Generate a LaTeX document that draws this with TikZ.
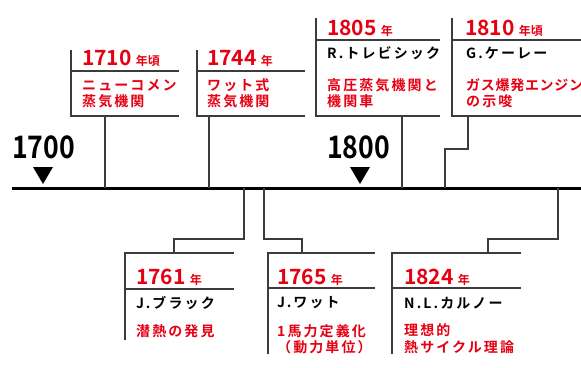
\documentclass[tikz,border=0pt]{standalone}
\usepackage{fontspec}
\newfontfamily\jp{Noto Sans CJK JP}[BoldFont={Noto Sans CJK JP Bold}]
\newfontfamily\jpnum{Noto Sans CJK JP}[BoldFont={Noto Sans CJK JP Bold},FakeStretch=0.86]
\newfontfamily\jpls{Noto Sans CJK JP}[BoldFont={Noto Sans CJK JP Bold},LetterSpace=15]
\definecolor{jred}{RGB}{230,0,18}
\definecolor{lgray}{RGB}{60,60,60}
\begin{document}
\begin{tikzpicture}[x=1pt,y=-1pt,
  boxline/.style={draw=lgray, line width=1.1pt},
  conn/.style={draw=lgray, line width=1.3pt},
  yr/.style={anchor=base west, inner sep=0, text=jred, font=\jp\bfseries\fontsize{21}{21}\selectfont},
  who/.style={anchor=west, inner sep=0, text=black, font=\jpls\bfseries\fontsize{14}{14}\selectfont},
  what/.style={anchor=west, inner sep=0, text=jred, font=\jpls\bfseries\fontsize{14}{14}\selectfont},
  century/.style={anchor=base west, inner sep=0, text=black, font=\jpnum\bfseries\fontsize{31}{31}\selectfont}]
\clip (0,0) rectangle (581,367);
\newcommand{\sm}[1]{\hspace{4pt}{\fontsize{12}{12}\selectfont #1}}
% timeline
\coordinate (tls) at (12,188);
\coordinate (tle) at (581,188);
\draw[black, line width=3pt] (tls) -- (tle);
% century labels
\node[century] (c1700) at (12,158) {1700};
\node[century] (c1800) at (327,158) {1800};
\fill ([shift={(21,9)}]c1700.base west) -- ++(20,0) -- ++(-10,17) -- cycle;
\fill ([shift={(23,9)}]c1800.base west) -- ++(20,0) -- ++(-10,17) -- cycle;
% ---------- Box A 1710
\coordinate (Atl) at (71,50); \coordinate (Adl) at (71,71); \coordinate (Adr) at (179,71);
\coordinate (Abl) at (71,116); \coordinate (Abr) at (179,116);
\coordinate (Ac) at (105,116); \coordinate (At) at (105,188);
\draw[boxline] (Atl) -- (Abl) -- (Abr); \draw[boxline] (Adl) -- (Adr);
\draw[conn] (Ac) -- (At);
\node[yr] (Ay) at (82,65) {1710\sm{年頃}};
\node[what] (Aw1) at (82,85) {ニューコメン};
\node[what] (Aw2) at (82,101) {蒸気機関};
% ---------- Box B 1744
\coordinate (Btl) at (197,50); \coordinate (Bdl) at (197,71); \coordinate (Bdr) at (305,71);
\coordinate (Bbl) at (197,116); \coordinate (Bbr) at (305,116);
\coordinate (Bc) at (209,116); \coordinate (Bt) at (209,188);
\draw[boxline] (Btl) -- (Bbl) -- (Bbr); \draw[boxline] (Bdl) -- (Bdr);
\draw[conn] (Bc) -- (Bt);
\node[yr] (By) at (207,65) {1744\sm{年}};
\node[what] (Bw1) at (207,85) {ワット式};
\node[what] (Bw2) at (207,101) {蒸気機関};
% ---------- Box C 1805
\coordinate (Ctl) at (316,18); \coordinate (Cdl) at (316,40); \coordinate (Cdr) at (440,40);
\coordinate (Cbl) at (316,116); \coordinate (Cbr) at (440,116);
\coordinate (Cc) at (402,116); \coordinate (Ct) at (402,188);
\draw[boxline] (Ctl) -- (Cbl) -- (Cbr); \draw[boxline] (Cdl) -- (Cdr);
\draw[conn] (Cc) -- (Ct);
\node[yr] (Cy) at (327,35) {1805\sm{年}};
\node[who] (Cn) at (327,53) {R.トレビシック};
\node[what] (Cw1) at (327,85) {高圧蒸気機関と};
\node[what] (Cw2) at (327,101) {機関車};
% ---------- Box D 1810
\coordinate (Dtl) at (452,18); \coordinate (Ddl) at (452,40); \coordinate (Ddr) at (581,40);
\coordinate (Dbl) at (452,116); \coordinate (Dbr) at (581,116);
\coordinate (Dc) at (468,116); \coordinate (Dk1) at (468,149); \coordinate (Dk2) at (445,149); \coordinate (Dt) at (445,188);
\draw[boxline] (Dtl) -- (Dbl) -- (Dbr); \draw[boxline] (Ddl) -- (Ddr);
\draw[conn] (Dc) -- (Dk1) -- (Dk2) -- (Dt);
\node[yr] (Dy) at (465,35) {1810\sm{年頃}};
\node[who] (Dn) at (466,53) {G.ケーレー};
\node[what, font=\jp\bfseries\fontsize{14}{14}\selectfont\addfontfeature{LetterSpace=5}] (Dw1) at (466,85) {ガス爆発エンジン};
\node[what] (Dw2) at (466,101) {の示唆};
% ---------- Box E 1761
\coordinate (Etl) at (125,253); \coordinate (Etr) at (234,253); \coordinate (Ebl) at (125,340);
\coordinate (Edl) at (125,289); \coordinate (Edr) at (234,289);
\coordinate (Et) at (244,188); \coordinate (Ek1) at (244,239); \coordinate (Ek2) at (174,239); \coordinate (Ec) at (174,253);
\draw[boxline] (Ebl) -- (Etl) -- (Etr); \draw[boxline] (Edl) -- (Edr);
\draw[conn] (Et) -- (Ek1) -- (Ek2) -- (Ec);
\node[yr] (Ey) at (136,284) {1761\sm{年}};
\node[who] (En) at (136,303) {J.ブラック};
\node[what] (Ew1) at (136,331) {潜熱の発見};
% ---------- Box F 1765
\coordinate (Ftl) at (268,253); \coordinate (Ftr) at (375,253); \coordinate (Fbl) at (268,354);
\coordinate (Fdl) at (268,288); \coordinate (Fdr) at (375,288);
\coordinate (Ft) at (264,188); \coordinate (Fk1) at (264,239); \coordinate (Fk2) at (302,239); \coordinate (Fc) at (302,253);
\draw[boxline] (Fbl) -- (Ftl) -- (Ftr); \draw[boxline] (Fdl) -- (Fdr);
\draw[conn] (Ft) -- (Fk1) -- (Fk2) -- (Fc);
\node[yr] (Fy) at (277,284) {1765\sm{年}};
\node[who] (Fn) at (277,303) {J.ワット};
\node[what] (Fw1) at (277,331) {1馬力定義化};
\node[what] (Fw2) at (277,347) {（動力単位）};
% ---------- Box G 1824
\coordinate (Gtl) at (392,253); \coordinate (Gtr) at (521,253); \coordinate (Gbl) at (392,354);
\coordinate (Gdl) at (392,288); \coordinate (Gdr) at (521,288);
\coordinate (Gt) at (558,188); \coordinate (Gk1) at (558,239); \coordinate (Gk2) at (488,239); \coordinate (Gc) at (488,253);
\draw[boxline] (Gbl) -- (Gtl) -- (Gtr); \draw[boxline] (Gdl) -- (Gdr);
\draw[conn] (Gt) -- (Gk1) -- (Gk2) -- (Gc);
\node[yr] (Gy) at (404,284) {1824\sm{年}};
\node[who] (Gn) at (404,303) {N.L.カルノー};
\node[what] (Gw1) at (404,330) {理想的};
\node[what] (Gw2) at (404,347) {熱サイクル理論};
\end{tikzpicture}
\end{document}
